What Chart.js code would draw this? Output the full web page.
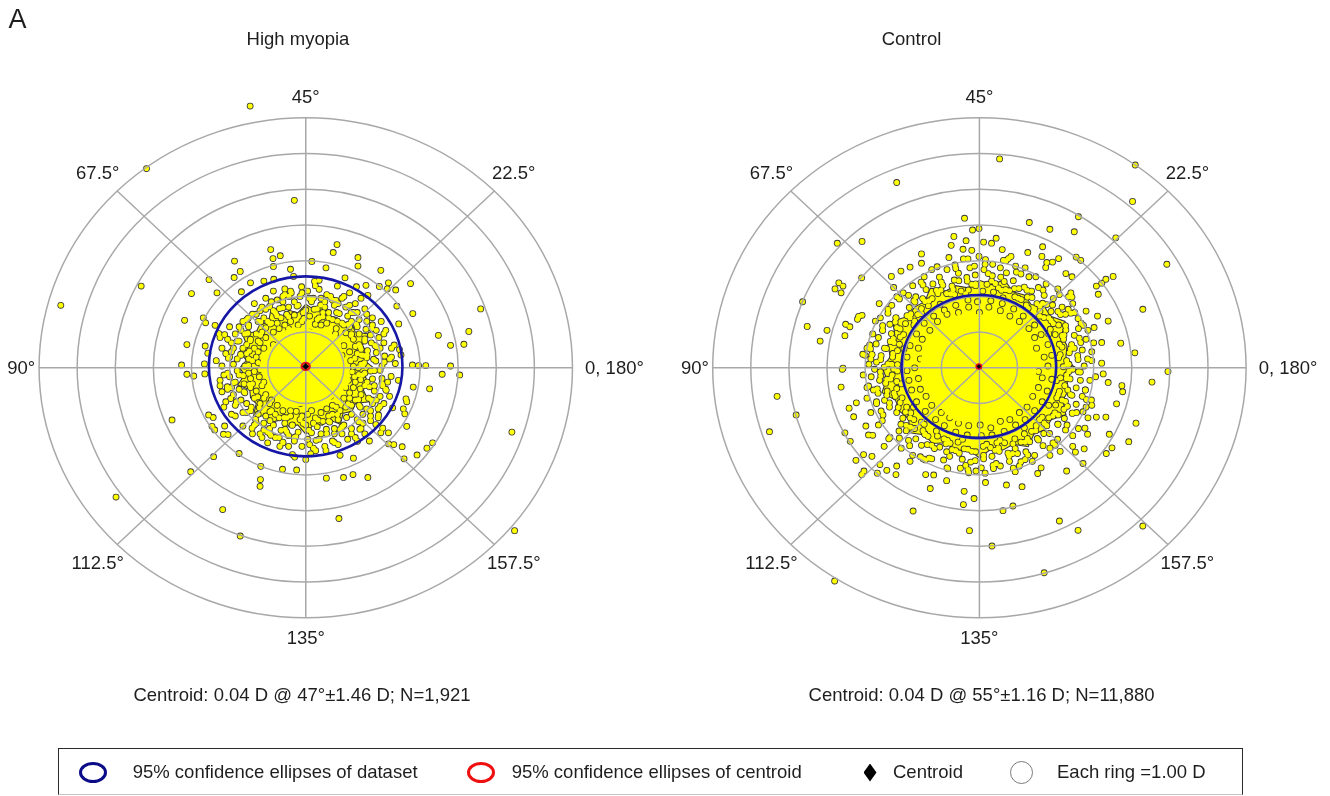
<!DOCTYPE html>
<html>
<head>
<meta charset="utf-8">
<script src="https://cdn.jsdelivr.net/npm/chart.js@4.4.1/dist/chart.umd.min.js"></script>
<style>
  html, body { margin: 0; padding: 0; background: #fff; }
  #wrap { position: relative; width: 1330px; height: 796px; overflow: hidden;
          font-family: "Liberation Sans", Arial, Helvetica, sans-serif; color: #1e1e1e; }
  #plot { position: absolute; left: 0; top: 0; }
  .txt { position: absolute; white-space: nowrap; font-size: 18.5px; line-height: 18.5px; }
  .panel-tag { position: absolute; font-size: 27px; line-height: 27px; left: 8.5px; top: 6.4px; }
  #legendBox { position: absolute; left: 58px; top: 748px; width: 1185px; height: 47px;
               box-sizing: border-box; border: 1px solid #2a2a2a; border-bottom-color: #c4c4c4; }
  .ring { position: absolute; box-sizing: border-box; border-radius: 50%; }
  .diamond { position: absolute; width: 13px; height: 18px; background: #000;
             clip-path: polygon(50% 0, 100% 50%, 50% 100%, 0 50%); }
</style>
</head>
<body>
<div id="wrap">
  <canvas id="plot" width="1330" height="796"></canvas>
  <div class="panel-tag">A</div>
  <div id="legendBox"></div>
</div>
<script>
// ---------------------------------------------------------------------------
// Double-angle astigmatism plots. Points are [x, y] in dioptres on the
// double-angle plane (plot angle = 2 x cylinder axis).
// ---------------------------------------------------------------------------

const ringRadii = [1, 2, 3, 4, 5, 6, 7];                 // D
const ringStep = 1.00;                                     // D per ring
const spokeAxes = [0, 22.5, 45, 67.5, 90, 112.5, 135, 157.5];  // cylinder axis, degrees
const axisLabels = ['0, 180°', '22.5°', '45°', '67.5°', '90°', '112.5°', '135°', '157.5°'];
const panelTitles = ['High myopia', 'Control'];

// centroid: [magnitude D, axis deg]; spread (SD, D); sample size
const highMyopiaCentroid = [0.04, 47];
const controlCentroid = [0.04, 55];
const highMyopiaSD = 1.46;
const controlSD = 1.16;
const highMyopiaN = 1921;
const controlN = 11880;

// 95% confidence ellipses: [semi-axis x, semi-axis y] in D
const highMyopiaDataEllipse = [2.54, 2.52];
const controlDataEllipse = [2.03, 2.00];
const highMyopiaCentroidEllipse = [0.105, 0.10];
const controlCentroidEllipse = [0.06, 0.06];

// outline of the area where high-myopia points overlap heavily
const highMyopiaMass = [
  [1.78,0.00],[1.54,0.21],[1.61,0.44],[1.48,0.62],[1.64,0.95],[1.30,1.00],[1.22,1.22],[0.92,1.20],
  [0.82,1.41],[0.60,1.46],[0.48,1.79],[0.22,1.63],[0.00,1.78],[-0.21,1.54],[-0.44,1.61],[-0.61,1.46],
  [-0.92,1.60],[-0.98,1.27],[-1.21,1.21],[-1.30,1.00],[-1.67,0.97],[-1.55,0.64],[-1.73,0.46],[-1.56,0.21],
  [-1.73,0.00],[-1.61,-0.21],[-1.79,-0.48],[-1.47,-0.61],[-1.45,-0.84],[-1.30,-1.00],[-1.38,-1.38],[-1.02,-1.33],
  [-0.87,-1.52],[-0.60,-1.44],[-0.44,-1.64],[-0.21,-1.60],[0.00,-1.86],[0.21,-1.58],[0.44,-1.61],[0.60,-1.45],
  [0.91,-1.58],[0.98,-1.27],[1.22,-1.22],[1.30,-1.00],[1.66,-0.95],[1.51,-0.62],[1.64,-0.44],[1.55,-0.21],
  [1.78,0.00]
];
// fully covered centre
const highMyopiaSolid = [
  [1.16,0.00],[0.97,0.40],[0.86,0.86],[0.42,1.00],[0.00,1.10],[-0.45,1.10],[-0.74,0.74],[-1.07,0.44],
  [-1.21,0.00],[-0.99,-0.41],[-0.79,-0.79],[-0.45,-1.10],[0.00,-1.05],[0.44,-1.07],[0.78,-0.78],[1.12,-0.46],
  [1.16,0.00]
];

// high myopia eyes
const highMyopiaPoints = [
  // centre
  [0.45,0.65],[-0.30,0.85],[-0.70,0.30],[0.80,-0.25],[0.20,-0.70],[-0.55,-0.55],[0.95,0.35],[-0.95,-0.25],
  [0.10,1.00],[-0.15,-1.00],[0.65,-0.80],[-0.85,0.65],
  // dense band 1.1 - 2.4 D
  [1.25,0.04],[1.39,-0.19],[1.54,0.14],[1.29,0.27],[1.70,-0.09],[1.44,-0.33],[1.60,0.28],[1.84,0.19],
  [1.38,0.00],[1.75,-0.31],[1.95,-0.07],[1.22,-0.11],[1.46,0.36],[2.07,0.33],[2.24,-0.24],[1.85,0.43],
  [1.61,-0.40],[2.35,0.12],
  [1.15,0.45],[1.30,0.60],[1.45,0.52],[1.25,0.80],[1.55,0.75],[1.62,0.48],[1.40,0.95],[1.70,0.92],
  [1.05,0.98],[1.82,0.62],[1.92,0.85],[1.35,1.15],[1.58,1.08],[1.75,1.20],[2.05,0.70],[2.10,1.05],
  [1.20,1.30],[2.25,0.55],[1.98,1.30],
  [0.80,1.10],[0.95,1.25],[0.70,1.35],[1.10,1.45],[0.88,1.52],[0.60,1.55],[1.25,1.55],[1.05,1.70],
  [0.75,1.75],[0.55,1.25],[1.40,1.35],[0.95,1.95],[1.30,1.80],[0.65,2.00],[1.55,1.65],[1.15,2.10],
  [0.50,1.85],[1.45,1.95],
  [0.25,1.22],[-0.10,1.30],[0.10,1.45],[0.35,1.40],[-0.30,1.48],[0.00,1.62],[0.30,1.65],[-0.20,1.75],
  [0.45,1.55],[-0.40,1.30],[0.15,1.85],[-0.45,1.70],[0.40,1.95],[-0.15,2.00],[0.05,2.15],[-0.38,2.10],
  [0.25,2.30],[-0.05,1.38],
  [-0.55,1.20],[-0.70,1.10],[-0.65,1.40],[-0.90,1.25],[-0.80,1.55],[-1.05,1.12],[-1.10,1.40],[-0.60,1.68],
  [-0.95,1.72],[-1.25,1.30],[-1.20,1.60],[-0.75,1.90],[-1.40,1.50],[-1.05,1.95],[-0.55,2.05],[-1.35,1.80],
  [-0.85,2.15],[-1.55,1.35],
  [-1.05,0.85],[-1.20,0.70],[-1.30,0.95],[-1.15,1.00],[-1.45,0.80],[-1.35,0.55],[-1.60,0.95],[-1.55,0.65],
  [-1.50,1.15],[-1.75,0.75],[-1.70,1.05],[-1.90,0.55],[-1.85,0.95],[-2.05,0.80],[-1.25,0.45],[-2.00,1.15],
  [-1.65,1.30],[-2.20,0.55],
  [-1.25,0.15],[-1.35,-0.10],[-1.50,0.25],[-1.45,-0.30],[-1.60,0.05],[-1.70,0.35],[-1.75,-0.20],[-1.30,0.30],
  [-1.90,0.10],[-1.85,-0.40],[-2.00,0.30],[-2.05,-0.15],[-1.62,-0.45],[-2.20,0.05],[-2.25,-0.35],[-1.22,-0.25],
  [-1.95,0.45],[-2.35,0.20],
  [-1.15,-0.50],[-1.30,-0.65],[-1.05,-0.75],[-1.45,-0.55],[-1.35,-0.85],[-1.60,-0.70],[-1.20,-1.00],[-1.55,-1.00],
  [-1.75,-0.60],[-1.70,-0.90],[-1.45,-1.20],[-1.90,-0.75],[-1.85,-1.05],[-2.05,-0.60],[-1.65,-1.25],[-2.10,-0.95],
  [-1.25,-1.30],[-1.95,-1.30],
  [-0.75,-1.05],[-0.60,-1.20],[-0.90,-1.20],[-0.70,-1.40],[-1.05,-1.35],[-0.55,-1.55],[-0.85,-1.60],[-1.10,-1.55],
  [-0.65,-1.75],[-1.00,-1.80],[-1.30,-1.55],[-0.45,-1.90],[-0.80,-1.95],[-1.20,-1.85],[-0.60,-2.10],[-1.00,-2.10],
  [-1.40,-1.85],[-0.95,-1.00],
  [-0.25,-1.22],[0.05,-1.30],[-0.15,-1.45],[0.25,-1.40],[-0.35,-1.60],[0.00,-1.60],[0.30,-1.65],[-0.20,-1.80],
  [0.15,-1.82],[-0.40,-1.35],[0.40,-1.25],[0.05,-2.00],[-0.30,-2.05],[0.35,-2.00],[-0.10,-2.20],[0.20,-2.25],
  [0.45,-1.50],[-0.50,-1.80],
  [0.55,-1.15],[0.70,-1.30],[0.60,-1.50],[0.90,-1.20],[0.85,-1.45],[1.05,-1.10],[0.75,-1.70],[1.00,-1.60],
  [1.20,-1.30],[0.55,-1.85],[0.95,-1.85],[1.20,-1.70],[1.35,-1.45],[0.70,-2.05],[1.10,-2.00],[1.45,-1.70],
  [0.50,-2.20],[1.30,-1.95],
  [1.00,-0.85],[1.15,-0.70],[1.30,-0.90],[1.25,-0.55],[1.45,-0.75],[1.55,-0.50],[1.40,-1.05],[1.65,-0.85],
  [1.60,-1.15],[1.80,-0.65],[1.75,-1.00],[1.95,-0.80],[1.90,-1.15],[1.50,-1.30],[2.10,-0.60],[2.05,-1.00],
  [1.20,-1.05],[1.70,-1.35],
  [1.18,0.20],[1.12,-0.35],[1.00,0.62],[0.78,0.95],[0.40,1.20],[-0.20,1.20],[-0.45,1.10],[-0.85,1.00],
  [-1.10,0.55],[-1.20,-0.05],[-1.10,-0.40],[-0.90,-0.90],[-0.40,-1.20],[0.15,-1.20],[0.70,-1.05],[1.05,-0.55],
  [1.28,-0.25],[1.35,0.40],[1.20,0.95],[0.60,1.40],[-0.75,1.25],[-1.25,0.75],[-1.40,0.20],[-1.40,-0.45],
  [-1.10,-0.85],[-0.50,-1.40],[0.20,-1.55],[0.80,-1.10],[1.30,-0.40],[1.45,0.10],[1.40,0.65],[1.00,1.20],
  [0.30,1.35],[-0.50,1.50],[-1.00,1.30],[-1.55,0.40],[-1.50,-0.15],[-0.80,-1.30],[-0.10,-1.35],[0.60,-1.35],
  [1.15,-0.85],[1.55,-0.15],[1.50,0.35],[1.15,1.15],[0.50,1.70],[-0.60,1.85],
  [1.95,0.55],[2.15,-0.40],[1.80,-0.50],[2.00,0.05],[2.25,0.30],[1.72,0.70],[1.60,1.30],[1.35,1.55],
  [1.85,1.05],[1.15,1.75],[0.85,1.80],[1.60,1.50],[0.55,2.05],[0.20,1.95],[-0.30,1.85],[-0.10,2.10],
  [0.70,1.90],[-0.60,2.00],[-1.15,1.70],[-0.90,1.85],[-1.50,1.20],[-1.30,1.50],[-1.75,1.15],[-0.40,2.15],
  [-1.95,0.70],[-2.10,0.40],[-1.80,0.25],[-2.15,-0.20],[-1.95,-0.55],[-2.25,0.85],[-1.80,-0.95],[-1.55,-1.25],
  [-2.00,-0.25],[-1.35,-1.60],[-1.85,-1.35],[-2.15,-1.10],[-0.95,-1.70],[-0.70,-1.95],[-1.15,-1.95],[-0.30,-1.95],
  [-0.45,-2.20],[0.10,-2.15],[0.40,-1.85],[0.75,-1.85],[0.95,-1.65],[1.20,-1.85],[0.85,-2.15],[1.50,-1.55],
  [1.70,-1.20],[1.85,-0.90],[2.00,-0.30],[2.20,-0.80],[1.90,-1.40],[1.55,-1.85],[1.75,1.40],[2.05,0.95],
  [0.35,2.20],[-0.85,1.60],[-1.65,0.55],[1.00,2.00],
  [1.50,0.07],[1.78,0.24],[1.61,0.36],[1.86,0.59],[1.43,0.59],[1.55,0.81],[1.73,1.10],[1.19,0.91],
  [1.33,1.22],[1.12,1.22],[1.19,1.55],[0.83,1.31],[0.81,1.55],[0.79,1.89],[0.45,1.43],[0.39,1.76],
  [0.22,1.64],[0.09,1.95],
  [-0.07,1.55],[-0.23,1.73],[-0.44,2.00],[-0.45,1.43],[-0.69,1.66],[-0.76,1.46],[-1.05,1.64],[-0.94,1.23],
  [-1.18,1.29],[-1.51,1.39],[-1.19,0.91],[-1.52,0.97],[-1.46,0.76],[-1.80,0.75],[-1.48,0.47],[-1.71,0.38],
  [-2.03,0.27],[-1.50,0.07],
  [-1.80,-0.08],[-1.64,-0.22],[-1.90,-0.42],[-1.48,-0.47],[-1.62,-0.67],[-1.82,-0.95],[-1.26,-0.81],[-1.43,-1.10],
  [-1.22,-1.12],[-1.32,-1.44],[-0.94,-1.23],[-0.94,-1.48],[-0.95,-1.82],[-0.57,-1.39],[-0.54,-1.72],[-0.36,-1.61],
  [-0.26,-1.93],[-0.07,-1.55],
  [0.08,-1.75],[0.27,-2.03],[0.32,-1.46],[0.54,-1.72],[0.63,-1.52],[0.90,-1.73],[0.83,-1.31],[1.07,-1.39],
  [1.39,-1.51],[1.11,-1.01],[1.43,-1.10],[1.39,-0.89],[1.73,-0.90],[1.43,-0.59],[1.67,-0.53],[2.00,-0.44],
  [1.49,-0.20],[1.80,-0.08],
  // scattered points, upper half
  [-1.46,7.33],[-4.18,5.58],[-0.30,4.69],[-6.43,1.75],[-4.32,2.29],[-0.92,3.31],[-0.86,3.06],[-0.67,3.14],
  [0.82,3.45],[0.72,3.23],[1.37,3.09],[1.37,2.85],[-1.87,2.99],[-1.72,2.70],[-1.88,2.53],[-0.85,2.84],
  [-0.40,2.76],[0.16,2.98],[0.53,2.80],[1.97,2.73],[-2.54,2.47],[-3.00,2.08],[-2.33,2.10],[2.75,2.36],
  [2.36,2.18],[2.17,2.38],[2.14,2.21],[1.93,2.28],[4.59,1.65],[2.81,1.52],[2.44,1.23],[3.48,0.91],
  [4.28,1.02],[3.80,0.63],[4.15,0.66],[3.80,0.05],[2.80,0.08],[2.96,0.06],[3.15,0.06],[-3.18,1.33],
  [-2.69,1.40],[-2.63,1.26],[-3.12,0.65],[-2.64,0.61],[-2.57,0.41],[-3.26,0.08],[-2.66,0.11],
  [-1.45,2.38],[-1.69,2.13],[-1.10,2.43],[-0.84,2.48],[-0.55,2.21],[-0.32,2.56],[-0.11,2.27],[0.23,2.42],
  [0.35,2.45],[0.83,2.29],[1.03,2.52],[1.33,2.27],[1.58,2.31],[1.63,2.03],[2.39,1.73],[2.32,0.64],
  [2.46,0.51],[2.50,0.36],[2.06,0.16],[2.20,0.25],[-2.28,0.96],[-2.13,0.93],[-2.38,1.19],
  // scattered points, lower half
  [-3.51,-1.46],[-4.98,-3.62],[-2.18,-3.97],[-1.72,-4.71],[0.87,-4.22],[5.41,-1.80],[5.48,-4.56],[-2.42,-2.49],
  [-3.02,-2.91],[-1.75,-2.40],[-1.18,-2.76],[-1.19,-3.13],[-1.20,-3.32],[-0.61,-2.84],[-0.24,-2.86],[0.54,-3.09],
  [0.99,-3.07],[1.24,-2.99],[1.63,-3.07],[2.58,-2.55],[2.92,-2.44],[3.18,-2.25],[3.33,-2.10],[2.31,-2.15],
  [2.53,-2.21],[3.58,-0.18],[4.04,-0.20],[3.25,-0.59],[2.82,-0.54],[2.63,-0.87],[2.65,-0.95],[2.56,-1.15],
  [2.60,-1.29],[2.65,-1.64],[2.17,-1.82],[1.97,-1.82],[1.95,-1.08],[2.28,-1.12],[1.70,-1.48],[1.84,-1.59],
  [1.25,-2.53],[0.90,-2.45],[-3.12,-0.18],[-2.94,-0.23],[-2.65,-0.17],
  [-2.55,-1.32],[-2.43,-1.39],[-2.46,-1.64],[-2.39,-1.74],[-2.13,-1.63],[-2.16,-1.86],[-2.04,-1.87],[-2.20,-0.67],
  [-2.06,-0.53],[-2.25,-0.50],[-1.97,-0.86],[-1.65,-1.63],[-1.41,-1.69],[1.42,-1.72],[1.67,-2.05],[1.36,-2.06],
  [0.53,-2.32],[0.75,-2.09],[0.26,-2.32],[0.13,-2.41],[0.00,-2.57],[-0.29,-2.50],[-0.35,-2.43],[-0.60,-2.08],
  [-0.68,-2.20],[-0.92,-1.89],[-1.10,-1.74],[2.43,-0.35],[2.02,-0.50],[2.11,-0.63],[2.17,-2.13],[2.02,-1.69],
  [1.91,-1.32]
];

// outline of the area where control points overlap heavily
const controlMass = [
  [2.50,0.00],[2.27,0.30],[2.30,0.62],[2.16,0.90],[2.25,1.30],[1.87,1.44],[1.71,1.71],[1.36,1.77],
  [1.18,2.04],[0.88,2.13],[0.66,2.46],[0.31,2.33],[0.00,2.45],[-0.30,2.24],[-0.62,2.30],[-0.89,2.15],
  [-1.29,2.23],[-1.43,1.86],[-1.70,1.70],[-1.87,1.44],[-2.27,1.31],[-2.22,0.92],[-2.40,0.64],[-2.34,0.31],
  [-2.55,0.00],[-2.43,-0.32],[-2.56,-0.69],[-2.20,-0.91],[-2.10,-1.21],[-1.86,-1.43],[-1.82,-1.82],[-1.44,-1.88],
  [-1.23,-2.12],[-0.87,-2.10],[-0.62,-2.32],[-0.30,-2.29],[0.00,-2.52],[0.30,-2.28],[0.62,-2.30],[0.89,-2.14],
  [1.28,-2.21],[1.43,-1.86],[1.73,-1.73],[1.89,-1.45],[2.27,-1.31],[2.19,-0.91],[2.34,-0.63],[2.29,-0.30],
  [2.50,0.00]
];
// fully covered centre
const controlSolid = [
  [1.50,0.00],[1.31,0.54],[1.10,1.10],[0.55,1.34],[0.00,1.50],[-0.60,1.46],[-0.99,0.99],[-1.40,0.58],
  [-1.55,0.00],[-1.34,-0.56],[-1.06,-1.06],[-0.61,-1.48],[0.00,-1.42],[0.57,-1.39],[1.05,-1.05],[1.43,-0.59],
  [1.50,0.00]
];

// control eyes
const controlPoints = [
  // inside the ellipse
  [1.80,0.05],[1.55,-0.10],[1.70,0.30],[1.90,0.35],[1.50,0.55],[1.80,0.65],[1.45,0.85],[1.62,0.93],
  [1.30,1.10],[1.45,1.20],[1.05,1.30],[1.15,1.45],[0.80,1.45],[0.90,1.65],[0.55,1.60],[0.60,1.80],
  [0.25,1.70],[0.30,1.88],[0.00,1.55],[-0.05,1.85],[-0.28,1.70],[-0.30,1.90],[-0.55,1.55],[-0.62,1.75],
  [-0.85,1.50],[-0.92,1.62],[-1.10,1.30],[-1.20,1.45],[-1.30,1.05],[-1.45,1.25],[-1.50,0.80],[-1.65,0.95],
  [-1.60,0.55],[-1.82,0.62],[-1.55,0.25],[-1.90,0.30],[-1.70,0.00],[-1.90,-0.08],[-1.60,-0.30],[-1.85,-0.35],
  [-1.55,-0.60],[-1.78,-0.62],[-1.40,-0.80],[-1.65,-0.95],[-1.25,-1.05],[-1.42,-1.22],[-1.00,-1.25],[-1.15,-1.45],
  [-0.78,-1.40],[-0.92,-1.62],[-0.55,-1.55],[-0.62,-1.80],[-0.28,-1.62],[-0.32,-1.88],[0.02,-1.60],[0.05,-1.90],
  [0.30,-1.68],[0.33,-1.88],[0.55,-1.50],[0.65,-1.78],[0.80,-1.45],[0.95,-1.60],[1.05,-1.25],[1.20,-1.45],
  [1.25,-1.10],[1.45,-1.20],[1.40,-0.80],[1.65,-0.95],[1.55,-0.55],[1.78,-0.65],[1.65,-0.28],[1.90,-0.32],
  // dense band 2.0 - 3.0 D
  [2.20,0.03],[2.45,-0.04],[2.29,0.20],[2.59,0.23],[2.84,0.25],[2.12,0.37],[2.36,0.42],[2.17,0.58],
  [2.42,0.65],[2.66,0.71],[2.21,0.80],[2.49,0.91],[1.99,0.93],[2.27,1.06],[2.67,1.25],[1.86,1.08],
  [2.08,1.20],[1.88,1.32],[2.13,1.49],[2.33,1.64],[1.69,1.41],[1.88,1.58],[1.59,1.59],[1.77,1.77],
  [1.94,1.94],[1.51,1.80],[1.70,2.03],[1.23,1.76],[1.38,1.97],[1.10,1.91],[1.25,2.17],[1.48,2.55],
  [0.93,1.99],[1.04,2.22],[0.79,2.16],[0.89,2.44],[0.97,2.68],[0.58,2.17],[0.65,2.42],[0.71,2.66],
  [0.37,2.12],[0.42,2.36],[0.20,2.34],[0.23,2.64],
  [-0.10,2.30],[-0.11,2.60],[-0.13,2.85],[-0.29,2.18],[-0.32,2.43],[-0.48,2.15],[-0.54,2.44],[-0.64,2.88],
  [-0.65,2.05],[-0.72,2.29],[-0.86,2.08],[-0.96,2.31],[-1.05,2.54],[-1.09,2.08],[-1.22,2.35],[-1.24,1.94],
  [-1.40,2.19],[-1.53,2.40],[-1.34,1.74],[-1.49,1.94],[-1.52,1.66],[-1.69,1.84],[-1.86,2.03],[-1.62,1.49],
  [-1.84,1.69],[-2.17,1.99],[-1.70,1.31],[-1.90,1.46],[-1.94,1.24],[-2.19,1.40],[-2.40,1.53],[-2.08,1.09],
  [-2.35,1.22],[-2.08,0.86],[-2.31,0.96],[-2.54,1.05],[-2.10,0.66],[-2.34,0.74],[-2.15,0.48],[-2.44,0.54],
  [-2.88,0.64],[-2.28,0.30],[-2.58,0.34],[-2.82,0.37],[-2.15,0.09],[-2.40,0.11],
  [-2.25,-0.03],[-2.50,0.02],[-2.75,-0.04],[-2.29,-0.20],[-2.59,-0.23],[-2.84,-0.25],[-2.17,-0.38],[-2.46,-0.43],
  [-2.91,-0.51],[-2.17,-0.58],[-2.42,-0.65],[-2.66,-0.71],[-2.21,-0.80],[-2.49,-0.91],[-2.08,-0.97],[-2.36,-1.10],
  [-2.58,-1.21],[-1.91,-1.10],[-2.17,-1.25],[-2.55,-1.48],[-1.80,-1.26],[-2.01,-1.41],[-1.72,-1.45],[-1.92,-1.61],
  [-2.11,-1.77],[-1.52,-1.52],[-1.70,-1.70],[-1.48,-1.76],[-1.67,-1.99],[-1.83,-2.18],[-1.35,-1.92],[-1.52,-2.17],
  [-1.10,-1.91],[-1.25,-2.17],[-1.48,-2.55],[-0.93,-1.99],[-1.04,-2.22],[-0.77,-2.11],[-0.86,-2.35],[-0.94,-2.58],
  [-0.56,-2.08],[-0.62,-2.32],[-0.40,-2.27],[-0.45,-2.56],[-0.50,-2.81],[-0.20,-2.34],[-0.23,-2.64],
  [0.10,-2.20],[0.11,-2.45],[0.29,-2.23],[0.33,-2.48],[0.36,-2.73],[0.46,-2.10],[0.52,-2.34],[0.66,-2.10],
  [0.75,-2.39],[0.89,-2.81],[0.88,-2.13],[1.00,-2.40],[1.09,-2.63],[1.09,-2.08],[1.22,-2.35],[1.18,-1.85],
  [1.32,-2.07],[1.37,-1.78],[1.52,-1.98],[1.67,-2.18],[1.49,-1.62],[1.69,-1.84],[1.99,-2.17],[1.58,-1.45],
  [1.77,-1.62],[1.82,-1.40],[2.06,-1.58],[2.26,-1.74],[1.98,-1.26],[2.23,-1.42],[2.00,-1.04],[2.22,-1.16],
  [2.44,-1.27],[2.03,-0.84],[2.26,-0.94],[2.10,-0.66],[2.39,-0.75],[2.81,-0.89],[2.24,-0.50],[2.54,-0.56],
  [2.78,-0.62],[2.13,-0.28],[2.38,-0.31],[2.35,-0.10],[2.65,-0.12],
  [2.35,0.10],[2.08,0.28],[2.49,0.55],[2.10,0.66],[2.22,0.92],[1.82,0.95],[1.94,1.24],[2.06,1.58],
  [1.58,1.45],[1.59,1.73],[1.28,1.67],[1.37,2.15],[1.02,1.95],[0.92,2.22],[0.62,1.96],[0.50,2.24],
  [0.34,2.58],[0.09,2.15],
  [-0.20,2.34],[-0.36,2.07],[-0.66,2.46],[-0.75,2.07],[-1.01,2.18],[-1.03,1.78],[-1.32,1.88],[-1.67,1.99],
  [-1.52,1.52],[-1.80,1.51],[-1.72,1.20],[-2.21,1.28],[-1.99,0.93],[-2.26,0.82],[-1.98,0.53],[-2.27,0.40],
  [-2.59,0.23],
  [-2.15,-0.09],[-2.33,-0.31],[-2.05,-0.45],[-2.43,-0.77],[-2.03,-0.84],[-2.13,-1.11],[-1.73,-1.10],[-1.82,-1.40],
  [-1.92,-1.76],[-1.45,-1.58],[-1.43,-1.86],[-1.13,-1.77],[-1.18,-2.26],[-0.84,-2.03],[-0.72,-2.29],[-0.44,-2.00],
  [-0.30,-2.28],[-0.11,-2.60],
  [0.19,-2.14],[0.41,-2.31],[0.54,-2.03],[0.87,-2.40],[0.93,-1.99],[1.20,-2.08],[1.18,-1.68],[1.48,-1.76],
  [1.84,-1.84],[1.65,-1.38],[1.93,-1.35],[1.82,-1.05],[2.31,-1.08],[2.07,-0.75],[2.32,-0.62],[2.02,-0.36],
  [2.29,-0.20],
  [2.30,0.10],[2.58,0.34],[2.39,0.53],[2.62,0.83],[2.17,0.90],[2.26,1.18],[2.40,1.53],[1.82,1.40],
  [1.92,1.76],[1.66,1.81],[1.67,2.18],[1.26,1.98],[1.18,2.26],[1.09,2.63],[0.69,2.19],[0.56,2.54],
  [0.32,2.43],[0.12,2.75],
  [-0.10,2.35],[-0.33,2.53],[-0.62,2.78],[-0.69,2.19],[-1.00,2.40],[-1.13,2.17],[-1.48,2.32],[-1.43,1.86],
  [-1.72,1.88],[-2.10,1.93],[-1.82,1.40],[-2.19,1.40],[-2.17,1.13],[-2.54,1.05],[-2.24,0.71],[-2.49,0.55],
  [-2.82,0.37],[-2.30,0.10],
  [-2.60,-0.11],[-2.43,-0.32],[-2.68,-0.59],[-2.24,-0.71],[-2.36,-0.98],[-2.53,-1.32],[-1.94,-1.24],[-2.06,-1.58],
  [-1.81,-1.66],[-1.86,-2.03],[-1.43,-1.86],[-1.37,-2.15],[-1.32,-2.53],[-0.88,-2.13],[-0.78,-2.48],[-0.53,-2.39],
  [-0.36,-2.73],[-0.10,-2.35],
  [0.11,-2.55],[0.37,-2.82],[0.50,-2.24],[0.78,-2.48],[0.94,-2.26],[1.27,-2.44],[1.26,-1.98],[1.55,-2.02],
  [1.93,-2.10],[1.70,-1.55],[2.06,-1.58],[2.07,-1.32],[2.44,-1.27],[2.17,-0.90],[2.43,-0.77],[2.78,-0.62],
  [2.28,-0.30],[2.60,-0.11],
  [-2.62,-0.35],[-2.78,-0.62],[-2.70,-1.00],[-2.95,-0.85],[-2.85,0.25],[-2.65,0.85],[-2.95,0.55],[2.60,-1.70],
  [2.45,-1.90],[2.85,-1.40],[2.95,-1.05],[2.70,-0.80],[2.90,-0.35],[2.75,0.05],[2.95,0.45],[2.85,1.05],
  [2.50,1.55],[-0.30,3.05],[0.35,2.90],[-1.25,2.75],[1.20,2.80],
  [2.95,0.20],[2.70,0.50],[3.05,-0.25],[2.60,1.10],[2.80,0.80],[2.45,1.80],[2.10,2.05],[1.75,2.35],
  [1.55,2.25],[1.30,2.55],[0.95,2.85],[0.55,2.80],[0.15,2.90],[-0.25,2.80],[-0.55,2.65],[-0.85,2.75],
  [-1.45,2.55],[-1.75,2.30],[-2.00,2.10],[-2.30,1.75],[-2.60,1.40],[-2.80,0.95],[-3.00,0.35],[-3.05,-0.20],
  [-2.95,-0.55],[-2.85,-1.25],[-2.65,-1.60],[-2.35,-1.95],[-2.05,-2.25],[-1.75,-2.45],[-1.25,-2.55],[-0.85,-2.80],
  [-0.30,-2.85],[0.15,-2.95],[0.55,-2.75],[1.05,-2.75],[1.45,-2.45],[1.85,-2.25],[2.05,-2.00],[2.30,-1.60],
  [2.55,-1.25],[2.80,-1.10],[2.65,-0.35],[3.00,0.70],[2.40,2.10],[-2.25,2.25],[-2.70,-0.95],[0.70,3.00],
  // scattered points, upper half
  [0.53,5.85],[4.09,5.68],[-2.17,5.19],[4.02,4.66],[-0.39,4.19],[1.31,4.07],[1.85,3.88],[2.60,4.23],
  [2.49,3.81],[3.58,3.64],[4.92,2.90],[-3.73,3.49],[-3.08,3.54],[-4.64,1.85],[-4.52,1.16],[-4.00,1.05],
  [-4.18,0.75],[-3.53,0.90],[-3.51,1.22],[-3.40,1.15],[-3.69,2.38],[-3.58,2.29],[-3.79,2.21],[-3.63,2.10],
  [-3.17,1.44],[-3.08,1.47],[-3.20,1.36],[-3.09,2.52],[-2.73,1.31],[-3.06,0.38],[-2.90,0.10],[-2.70,0.16],
  [-3.58,-0.01],[-2.63,1.80],[-2.31,2.56],[-2.06,2.71],[-1.82,2.82],[-1.52,3.19],[-1.52,2.93],[-1.11,2.83],
  [-0.67,3.68],[-0.35,3.56],[-0.18,3.86],[-0.01,3.90],[0.11,3.52],[0.32,3.49],[0.44,3.63],[-0.74,3.43],
  [-0.43,3.32],[-0.20,3.29],[-0.80,3.09],[-0.42,3.05],[-0.01,3.12],[0.16,3.03],[0.60,3.31],[0.76,3.06],
  [0.83,3.12],[0.63,3.01],[1.27,3.23],[1.66,3.39],[1.64,3.12],[1.77,2.95],[1.92,2.96],[2.08,3.06],
  [1.74,2.81],[2.54,3.10],[2.66,3.01],[2.27,2.64],[2.43,2.55],[3.07,2.29],[3.21,2.37],[3.32,2.48],
  [3.51,2.56],[3.12,2.06],[4.29,1.64],[3.71,0.69],[4.08,0.42],[3.21,0.71],[2.80,1.59],[3.10,1.45],
  [3.38,1.31],[3.01,1.13],[2.73,1.19],[2.59,1.38],[3.21,0.13],[2.34,1.99],[2.43,1.98],[2.06,2.21],
  [2.17,1.70],[2.26,1.50],[-2.40,1.64],[-2.54,1.18],[-2.86,0.53],[-2.71,0.67],
  // scattered points, lower half
  [-5.31,-0.80],[-4.81,-1.32],[-5.51,-1.79],[-3.80,-5.97],[-1.74,-4.01],[-0.26,-4.56],[0.33,-4.99],[1.70,-5.74],
  [2.10,-4.29],[2.59,-4.55],[4.29,-4.43],[4.53,-0.40],[4.95,-0.10],[4.11,-1.55],[3.92,-2.07],[3.41,-1.86],
  [3.48,-2.24],[3.33,-2.40],[2.72,-2.68],[2.29,-2.89],[-0.42,-3.83],[-0.14,-3.66],[0.62,-4.00],[0.88,-3.87],
  [-0.40,-3.46],[-1.29,-3.38],[-0.86,-3.16],[0.16,-3.21],[0.71,-3.28],[1.12,-3.33],[-3.09,-2.99],[-3.03,-2.89],
  [-2.68,-2.95],[-2.19,-2.99],[-2.17,-2.75],[-1.41,-2.99],[-1.20,-3.00],[-3.24,-2.59],[-3.04,-2.43],[-2.82,-2.48],
  [-2.61,-2.71],[-2.43,-2.87],[-3.60,-0.04],[-3.63,-0.54],[-3.53,-1.82],[-3.39,-2.06],[-3.42,-1.13],[-3.30,-1.37],
  [-3.23,-0.98],[-2.98,-1.63],[-2.91,-1.88],[-2.80,-1.89],[-2.50,-2.20],[-2.38,-1.99],[-2.10,-1.97],[3.25,-0.17],
  [3.38,-0.41],[3.74,-0.50],[3.76,-0.67],[3.60,-1.01],[3.32,-1.38],[3.07,-1.38],[2.72,-1.23],[2.94,-0.90],
  [2.54,-1.02],[2.77,-1.69],[2.84,-1.86],[2.45,-2.20],[2.75,-2.27],[2.52,-2.36],[2.12,-2.34],[-1.82,-2.62],
  [-1.55,-2.49],[-1.42,-2.58],[-0.83,-2.83],[-0.28,-2.94],[-0.09,-2.89],[0.05,-2.80],[0.44,-2.68],[0.79,-2.62],
  [0.94,-2.91],[1.20,-2.57],[1.39,-2.62],[1.53,-2.96],[1.62,-2.80],[1.85,-2.45]
];

// ---------------------------------------------------------------------------
// Layout (pixels) and styling
// ---------------------------------------------------------------------------
const W = 1330, H = 796;
const layout = { cxL: 303.6, cxR: 981.3, cy: 367.5, pxPerDX: 38.33, pxPerDY: 36.07 };
const YELLOW = '#ffff00';
const EDGE = '#363636';
const GRID = '#a8a8a8';
const BLUE = '#1717a6';
const RED = '#e3121b';

function toDoubleAngle(mag, axisDeg) {
  const t = 2 * axisDeg * Math.PI / 180;
  return { x: mag * Math.cos(t), y: mag * Math.sin(t) };
}
const asXY = arr => arr.map(p => ({ x: p[0], y: p[1] }));

const panels = [
  { xAxis: 'xL', points: highMyopiaPoints, mass: highMyopiaMass, solid: highMyopiaSolid,
    centroid: highMyopiaCentroid, sd: highMyopiaSD, n: highMyopiaN, dataEllipse: highMyopiaDataEllipse,
    centroidEllipse: highMyopiaCentroidEllipse, centroidSize: 3.4,
    title: panelTitles[0], titleX: 298, captionX: 302 },
  { xAxis: 'xR', points: controlPoints, mass: controlMass, solid: controlSolid,
    centroid: controlCentroid, sd: controlSD, n: controlN, dataEllipse: controlDataEllipse,
    centroidEllipse: controlCentroidEllipse, centroidSize: 2.3,
    title: panelTitles[1], titleX: 911.5, captionX: 981.6 }
];

const datasets = [];
panels.forEach(p => {
  datasets.push({   // heavily overlapped area, beneath the points
    type: 'line', data: asXY(p.mass), xAxisID: p.xAxis, yAxisID: 'y',
    fill: 'shape', backgroundColor: YELLOW, borderColor: EDGE, borderWidth: 1.1,
    pointRadius: 0, tension: 0, order: 12
  });
  datasets.push({   // dark rim under each point
    data: asXY(p.points), xAxisID: p.xAxis, yAxisID: 'y',
    pointRadius: 3.4, backgroundColor: EDGE, borderWidth: 0, order: 11
  });
  datasets.push({   // fully covered centre hides the rims there
    type: 'line', data: asXY(p.solid), xAxisID: p.xAxis, yAxisID: 'y',
    fill: 'shape', backgroundColor: YELLOW, borderColor: 'rgba(0,0,0,0)', borderWidth: 0,
    pointRadius: 0, tension: 0.3, order: 10
  });
  datasets.push({   // yellow face of each point
    data: asXY(p.points), xAxisID: p.xAxis, yAxisID: 'y',
    pointRadius: 2.55, backgroundColor: YELLOW, borderWidth: 0, order: 9, panel: p
  });
  datasets.push({   // centroid
    data: [toDoubleAngle(p.centroid[0], p.centroid[1])], xAxisID: p.xAxis, yAxisID: 'y',
    pointStyle: 'rectRot', pointRadius: p.centroidSize, backgroundColor: '#000', borderWidth: 0, order: 1
  });
});

// rings, spokes and confidence ellipses, drawn over the point cloud
const polarGrid = {
  id: 'polarGrid',
  afterDatasetDraw(chart, args) {
    const p = chart.data.datasets[args.index].panel;
    if (!p) return;
    const xs = chart.scales[p.xAxis], ys = chart.scales.y, ctx = chart.ctx;
    const cx = xs.getPixelForValue(0), cy = ys.getPixelForValue(0);
    const ux = xs.getPixelForValue(1) - cx, uy = cy - ys.getPixelForValue(1);
    ctx.save();
    ctx.strokeStyle = GRID; ctx.lineWidth = 1.5;
    ringRadii.forEach(r => {
      ctx.beginPath(); ctx.ellipse(cx, cy, r * ux, r * uy, 0, 0, Math.PI * 2); ctx.stroke();
    });
    const R = ringRadii[ringRadii.length - 1];
    spokeAxes.forEach(a => {
      const t = 2 * a * Math.PI / 180;
      ctx.beginPath(); ctx.moveTo(cx, cy);
      ctx.lineTo(cx + R * ux * Math.cos(t), cy - R * uy * Math.sin(t)); ctx.stroke();
    });
    const c = toDoubleAngle(p.centroid[0], p.centroid[1]);
    const ex = xs.getPixelForValue(c.x), ey = ys.getPixelForValue(c.y);
    ctx.strokeStyle = BLUE; ctx.lineWidth = 2.6;
    ctx.beginPath(); ctx.ellipse(ex, ey, p.dataEllipse[0] * ux, p.dataEllipse[1] * uy, 0, 0, Math.PI * 2); ctx.stroke();
    ctx.strokeStyle = RED; ctx.lineWidth = 2.3;
    ctx.beginPath(); ctx.ellipse(ex, ey, p.centroidEllipse[0] * ux, p.centroidEllipse[1] * uy, 0, 0, Math.PI * 2); ctx.stroke();
    ctx.restore();
  }
};

const chart = new Chart(document.getElementById('plot'), {
  type: 'scatter',
  data: { datasets },
  options: {
    responsive: false, animation: false, events: [], devicePixelRatio: 1,
    layout: { padding: 0 },
    plugins: { legend: { display: false }, tooltip: { enabled: false } },
    scales: {
      xL: { type: 'linear', axis: 'x', display: false,
            min: -layout.cxL / layout.pxPerDX, max: (W - layout.cxL) / layout.pxPerDX },
      xR: { type: 'linear', axis: 'x', display: false,
            min: -layout.cxR / layout.pxPerDX, max: (W - layout.cxR) / layout.pxPerDX },
      y:  { type: 'linear', axis: 'y', display: false,
            min: -(H - layout.cy) / layout.pxPerDY, max: layout.cy / layout.pxPerDY }
    }
  },
  plugins: [polarGrid]
});

// ---------------------------------------------------------------------------
// Text: axis labels, titles, captions, legend
// ---------------------------------------------------------------------------
const wrap = document.getElementById('wrap');
function addText(text, x, top, anchor) {
  const d = document.createElement('div');
  d.className = 'txt';
  d.textContent = text;
  d.style.left = x + 'px';
  d.style.top = top + 'px';
  if (anchor === 'center') d.style.transform = 'translateX(-50%)';
  if (anchor === 'right') d.style.transform = 'translateX(-100%)';
  wrap.appendChild(d);
  return d;
}
const CAP_TO_TOP = 9.0;   // cap-height centre to box top for 18.5px text

function formatN(n) { return String(n).replace(/\B(?=(\d{3})+(?!\d))/g, ','); }

panels.forEach(p => {
  const xs = chart.scales[p.xAxis], ys = chart.scales.y;
  axisLabels.forEach((label, i) => {
    const t = 2 * spokeAxes[i] * Math.PI / 180;
    let r = 7.72, anchor = 'center';
    if (i === 0) { r = 7.33; anchor = 'left'; }
    else if (i === 4) { r = 7.1; anchor = 'right'; }
    else if (i === 2 || i === 6) { r = 7.58; }
    const px = xs.getPixelForValue(r * Math.cos(t));
    const py = ys.getPixelForValue(r * Math.sin(t));
    addText(label, px, py - CAP_TO_TOP, anchor);
  });
  addText(p.title, p.titleX, 30.3, 'center');
  addText('Centroid: ' + p.centroid[0].toFixed(2) + ' D @ ' + p.centroid[1] + '°±' + p.sd.toFixed(2) +
          ' D; N=' + formatN(p.n), p.captionX, 686, 'center');
});

function addRing(cx, cy, w, h, border, color) {
  const d = document.createElement('div');
  d.className = 'ring';
  Object.assign(d.style, { left: (cx - w / 2) + 'px', top: (cy - h / 2) + 'px', width: w + 'px',
                           height: h + 'px', border: border + 'px solid ' + color });
  wrap.appendChild(d);
}
const legendY = 772.5, legendTop = 762.6;
addRing(92.5, legendY, 28, 21, 3.8, '#0c0c88');
addText('95% confidence ellipses of dataset', 132.7, legendTop, 'left');
addRing(481, legendY, 28, 21, 3.8, '#ee1010');
addText('95% confidence ellipses of centroid', 511.7, legendTop, 'left');
const dia = document.createElement('div');
dia.className = 'diamond';
dia.style.left = (870 - 6.5) + 'px'; dia.style.top = (legendY - 9) + 'px';
wrap.appendChild(dia);
addText('Centroid', 893, legendTop, 'left');
addRing(1021, legendY, 23, 23, 1.6, '#7a7a7a');
addText('Each ring =' + ringStep.toFixed(2) + ' D', 1057, legendTop, 'left');
</script>
</body>
</html>
